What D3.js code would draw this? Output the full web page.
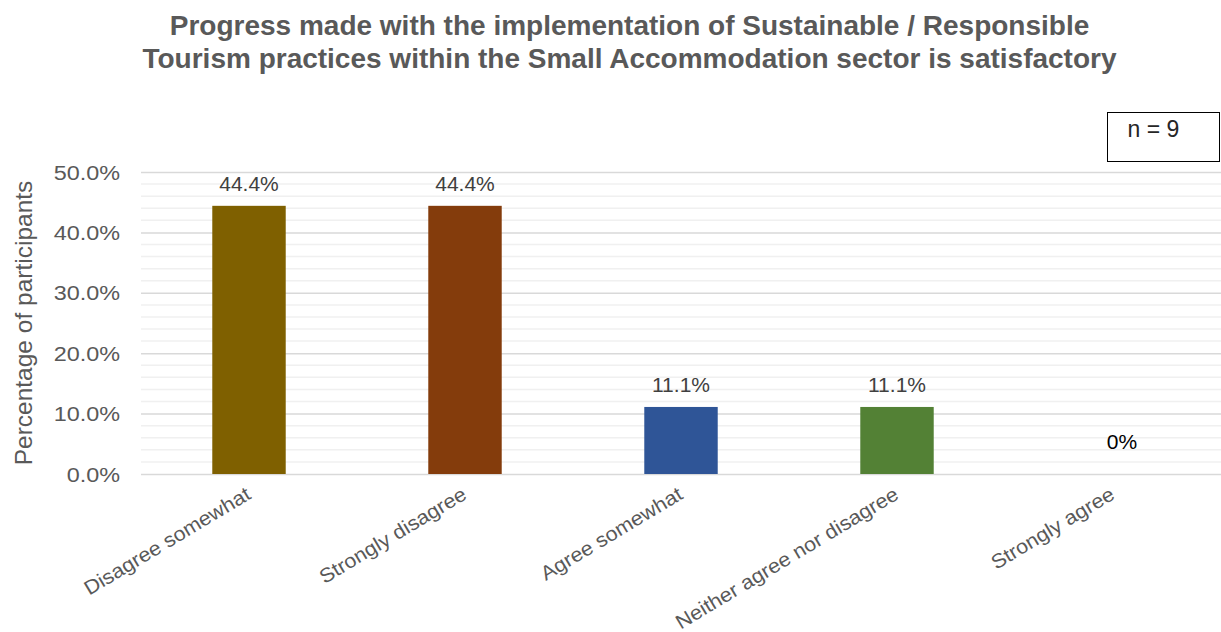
<!DOCTYPE html>
<html>
<head>
<meta charset="utf-8">
<script src="https://cdn.jsdelivr.net/npm/d3@7"></script>
<style>
  html, body { margin: 0; padding: 0; background: #fff; }
  svg { display: block; font-family: "Liberation Sans", Arial, sans-serif; }
</style>
</head>
<body>
<svg id="chart" width="1221" height="632"></svg>
<script>
// Survey responses, share of participants (%)
const categories = ["Disagree somewhat", "Strongly disagree", "Agree somewhat", "Neither agree nor disagree", "Strongly agree"];
const values = [44.4, 44.4, 11.1, 11.1, 0];
const valueLabels = ["44.4%", "44.4%", "11.1%", "11.1%", "0%"];
const barColors = ["#7F6000", "#843C0C", "#2F5597", "#538135", "#A5A5A5"];
const yTicks = [0, 10, 20, 30, 40, 50];
const yMinorTicks = d3.range(0, 52, 2);
const titleLines = [
  "Progress made with the implementation of Sustainable / Responsible",
  "Tourism practices within the Small Accommodation sector is satisfactory"
];
const sampleNote = "n = 9";

const svg = d3.select("#chart");
const margin = { left: 141, right: 0, top: 172, bottom: 158 };
const W = 1221, H = 632;

const x = d3.scaleBand().domain(categories).range([margin.left, W - margin.right]).paddingInner(0.66).paddingOuter(0.33);
const y = d3.scaleLinear().domain([0, 50]).range([H - margin.bottom, margin.top]);

// Widen text glyphs by a factor along the baseline
function widen(sel, factor) {
  sel.each(function () {
    const len = this.getComputedTextLength();
    d3.select(this).attr("textLength", len * factor).attr("lengthAdjust", "spacingAndGlyphs");
  });
}

// Title
const title = svg.append("g");
titleLines.forEach((t, i) => {
  title.append("text")
    .attr("x", 629.5).attr("y", 35 + i * 33)
    .attr("text-anchor", "middle")
    .attr("font-size", 28).attr("font-weight", "bold")
    .attr("fill", "#595959")
    .text(t);
});

// Minor gridlines
svg.append("g").selectAll("line").data(yMinorTicks.filter(v => v % 10 !== 0)).join("line")
  .attr("x1", margin.left).attr("x2", W)
  .attr("y1", d => y(d)).attr("y2", d => y(d))
  .attr("stroke", "#f0f0f0").attr("stroke-width", 1.5);

// Major gridlines and tick labels
const yAxis = svg.append("g")
  .attr("transform", `translate(${margin.left},0)`)
  .call(d3.axisLeft(y).tickValues(yTicks).tickSize(-(W - margin.left)).tickPadding(21).tickFormat(d => d.toFixed(1) + "%"));
yAxis.select(".domain").remove();
yAxis.selectAll(".tick line").attr("stroke", "#d9d9d9").attr("stroke-width", 1.5);
yAxis.selectAll(".tick text")
  .attr("font-size", 19.5).attr("fill", "#595959").attr("dy", "0.36em")
  .attr("font-family", "Liberation Sans, Arial, sans-serif");
widen(yAxis.selectAll(".tick text"), 1.2);

// Y axis title
svg.append("text")
  .attr("transform", `translate(32,${(y(0) + y(50)) / 2}) rotate(-90)`)
  .attr("text-anchor", "middle")
  .attr("font-size", 24.5).attr("fill", "#595959")
  .text("Percentage of participants");

// Bars
svg.append("g").selectAll("rect").data(categories).join("rect")
  .attr("x", d => x(d))
  .attr("width", x.bandwidth())
  .attr("y", (d, i) => y(values[i]))
  .attr("height", (d, i) => y(0) - y(values[i]))
  .attr("fill", (d, i) => barColors[i]);

// Value labels
svg.append("g").selectAll("text").data(categories).join("text")
  .attr("x", (d, i) => x(d) + x.bandwidth() / 2 + (values[i] === 0 ? 9 : 0))
  .attr("y", (d, i) => values[i] === 0 ? y(0) - 25 : y(values[i]) - 15)
  .attr("text-anchor", "middle")
  .attr("font-size", 21)
  .attr("fill", (d, i) => values[i] === 0 ? "#000" : "#404040")
  .text((d, i) => valueLabels[i]);

// Category labels, rotated
const xLabels = svg.append("g").selectAll("text").data(categories).join("text")
  .attr("transform", d => `translate(${x(d) + x.bandwidth() / 2 + 3},${y(0) + 24}) rotate(-31)`)
  .attr("text-anchor", "end")
  .attr("font-size", 20).attr("fill", "#595959")
  .text(d => d);
widen(xLabels, 1.075);

// Sample size note
const note = svg.append("g");
note.append("rect")
  .attr("x", 1107.5).attr("y", 112.5).attr("width", 112).attr("height", 49)
  .attr("fill", "#fff").attr("stroke", "#000").attr("stroke-width", 1);
note.append("text")
  .attr("x", 1153.5).attr("y", 137)
  .attr("text-anchor", "middle")
  .attr("font-size", 23).attr("fill", "#262626")
  .text(sampleNote);
</script>
</body>
</html>
